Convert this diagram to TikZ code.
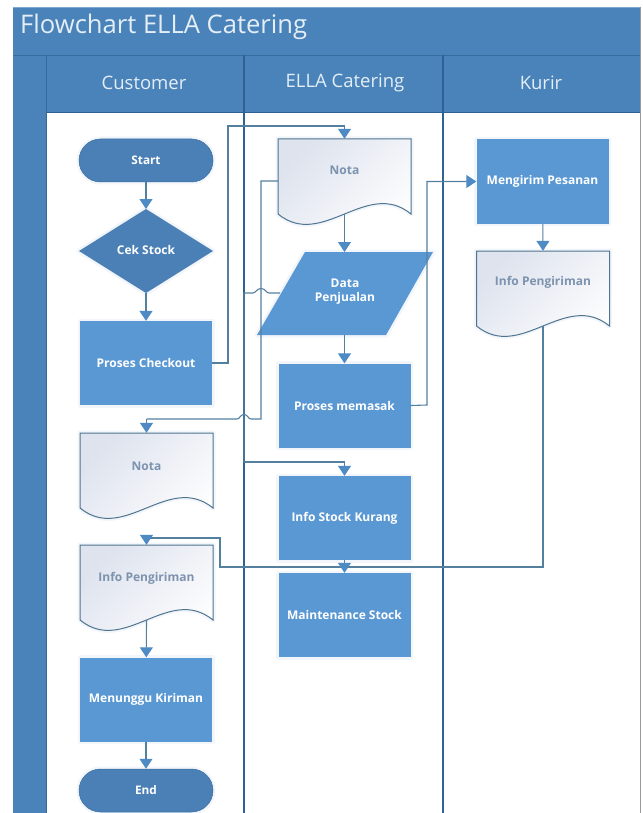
\documentclass[tikz,border=0pt]{standalone}
\usepackage{fontspec}
\setmainfont{Open Sans}
\usetikzlibrary{arrows.meta,calc}
\definecolor{bandc}{HTML}{4A83BA}
\definecolor{headc}{HTML}{4B86BE}
\definecolor{darkc}{HTML}{4A80B6}
\definecolor{boxc}{HTML}{5A98D3}
\definecolor{edgec}{HTML}{2F6293}
\definecolor{linec}{HTML}{54809F}
\definecolor{tipc}{HTML}{4E8BC4}
\definecolor{doctext}{HTML}{7C92AE}
\definecolor{docedge}{HTML}{4F7490}
\definecolor{titlec}{HTML}{E4EEF6}
\definecolor{DocTop}{HTML}{DEE3EE}
\tikzset{
  x=1pt,y=-1pt,
  halo/.style={preaction={draw=boxc,draw opacity=.08,line width=5pt,line join=round}},
  procbox/.style={shape=rectangle,fill=boxc,halo,minimum width=132pt,minimum height=84pt,inner sep=0pt,text=white,font=\fontsize{12}{14}\selectfont\bfseries},
  termbox/.style={shape=rectangle,rounded corners=21.5pt,fill=darkc,draw=edgec!60!darkc,line width=.5pt,halo,minimum width=134pt,minimum height=43pt,inner sep=0pt,text=white,font=\fontsize{11.8}{14}\selectfont\bfseries},
  docframe/.style={shape=rectangle,minimum width=133pt,minimum height=84pt,inner sep=0pt},
  docpath/.style={halo,top color=DocTop,middle color=white,bottom color=white,shading angle=45},
  docline/.style={draw=docedge,line width=1pt},
  doclabel/.style={shape=rectangle,inner sep=0pt,text=doctext,font=\fontsize{12}{14}\selectfont\bfseries},
  shapelabel/.style={shape=rectangle,inner sep=0pt,align=center,text=white,font=\fontsize{12}{14}\selectfont\bfseries},
  headlabel/.style={shape=rectangle,inner sep=0pt,text=titlec,font=\fontsize{18.5}{22}\selectfont},
  conn/.style={draw=linec,line width=1.1pt,line join=miter},
  arr/.style={conn,-{Triangle[length=10pt,width=13pt,color=tipc]}},
  lane/.style={draw=edgec,line width=1.1pt},
}
% name, centre x, top y, label, label y offset from top
\newcommand{\docnode}[5]{%
  \node[docframe] (#1) at (#2,#3+42) {};
  \path[docpath] (#2-66.5,#3) -- (#2+66.5,#3) -- (#2+66.5,#3+75)
     .. controls (#2+22.2,#3+39) and (#2-22.2,#3+111) .. (#2-66.5,#3+75) -- cycle;
  \draw[docline] (#2-66.5,#3) -- (#2+66.5,#3) -- (#2+66.5,#3+75)
     .. controls (#2+22.2,#3+39) and (#2-22.2,#3+111) .. (#2-66.5,#3+75) -- cycle;
  \node[doclabel] (#1t) at (#2,#3+#5) {#4};
}
\begin{document}
\begin{tikzpicture}
\useasboundingbox (0,0) rectangle (642,813);
\fill[white] (0,0) rectangle (642,813);
% frame
\fill[bandc] (13,7) rectangle (640,112);
\fill[bandc] (13,112) rectangle (46,813);
\draw[bandc!70!white,line width=.5pt] (13,7) -- (640,7);
\draw[edgec!70!bandc,line width=.8pt] (13,55) -- (640,55);
\draw[edgec!80!bandc,line width=.8pt] (46,55) -- (46,813);
\draw[edgec,line width=.8pt] (46,112) -- (640,112);
\fill[white] (46.5,113) rectangle (639,813);
\draw[gray!80,line width=1pt] (640,7) -- (640,813);
\node[shape=rectangle,inner sep=0pt,anchor=west,text=titlec,font=\fontsize{25.6}{30}\selectfont] (title) at (20,27) {Flowchart ELLA Catering};
\node[headlabel] (hc) at (144,83) {Customer};
\node[headlabel] (he) at (345,83) {ELLA Catering};
\node[headlabel] (hk) at (541,83) {Kurir};
% lanes
\coordinate (l1t) at (244,55); \coordinate (l1b) at (244,813);
\coordinate (l2t) at (443,55); \coordinate (l2b) at (443,813);
\draw[lane] (l1t) -- (l1b);
\draw[lane] (l2t) -- (l2b);
% customer lane
\node[termbox] (start) at (146,160.5) {Start};
\path[fill=darkc,halo] (146,209) -- (213,251) -- (146,293) -- (79,251) -- cycle;
\node[shapelabel] (cek) at (146,250) {Cek Stock};
\node[procbox] (checkout) at (146,363) {Proses Checkout};
\docnode{nota1}{146.5}{433}{Nota}{33}
\docnode{info1}{146.5}{545}{Info Pengiriman}{33}
\node[procbox] (tunggu) at (146,699.5) {Menunggu Kiriman};
\node[termbox] (end) at (146,790.5) {End};
% ELLA lane
\docnode{nota2}{344.5}{139}{Nota}{31}
\path[fill=boxc,halo] (305,252) -- (433,252) -- (386,335) -- (257,335) -- cycle;
\node[shapelabel] (data) at (345,292) {Data\\Penjualan};
\node[procbox] (masak) at (344.5,405.5) {Proses memasak};
\node[procbox] (kurang) at (344.5,518) {Info Stock Kurang};
\node[procbox] (maint) at (344.5,615) {Maintenance Stock};
% Kurir lane
\node[procbox] (kirim) at (542.5,181.5) {Mengirim Pesanan};
\docnode{info2}{543}{251}{Info Pengiriman}{31}
% connectors
\draw[arr] (start) -- (146,209);
\draw[arr] (146,293) -- (checkout);
\draw[arr] (checkout.east) -- (228,363) -- (228,126) -- (344.5,126) -- (nota2.north);
\draw[conn] (nota2.west) -- (261,181) -- (261,419) -- (251,419) .. controls (248,419) and (248,414.5) .. (244,414.5) .. controls (240,414.5) and (240,419) .. (237,419) -- (146.5,419);
\draw[arr] (146.5,419) -- (nota1.north);
\draw[arr] (344.5,214) -- (344.5,252);
\draw[conn] (280,293) -- (269,293) .. controls (266,293) and (265.5,288.5) .. (261,288.5) .. controls (256.5,288.5) and (256,293) .. (253,293) -- (244,293) -- (244,462);
\draw[arr] (244,462) -- (344.5,462) -- (kurang.north);
\draw[arr] (344.5,335) -- (masak);
\draw[arr] (masak.east) -- (427,405) -- (427,181.5) -- (kirim.west);
\draw[arr] (kirim) -- (info2.north);
\draw[conn] (543,326) -- (543,567) -- (220,567) -- (220,538) -- (146.5,538);
\draw[arr] (146.5,538) -- (info1.north);
\draw[arr] (kurang) -- (maint);
\draw[arr] (146.5,620) -- (tunggu);
\draw[arr] (tunggu) -- (end);
\end{tikzpicture}
\end{document}
